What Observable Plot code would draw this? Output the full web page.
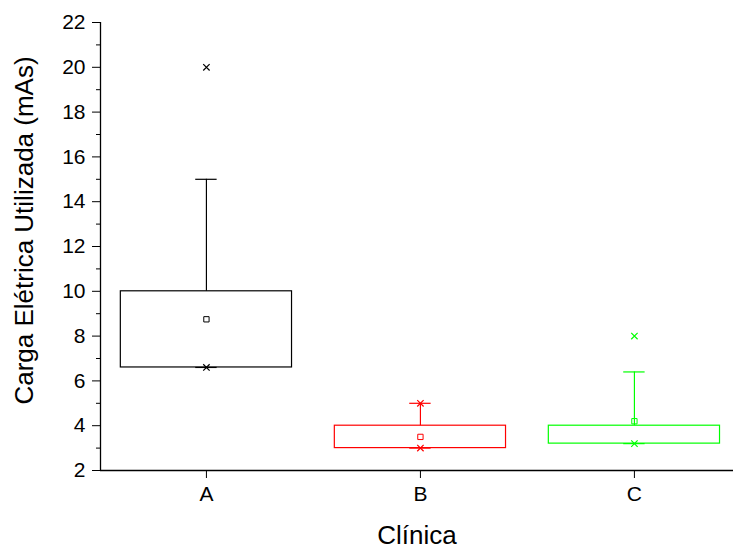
<!DOCTYPE html>
<html>
<head>
<meta charset="utf-8">
<script src="https://cdn.jsdelivr.net/npm/d3@7"></script>
<script src="https://cdn.jsdelivr.net/npm/@observablehq/plot@0.6"></script>
<style>
  body { margin: 0; background: #fff; }
  svg { display: block; }
</style>
</head>
<body>
<div id="chart"></div>
<script>
// Box-plot summaries of electric charge (mAs) per clinic
const clinics = ["A", "B", "C"];
const q1 = [6.6, 3.0, 3.2];          // 25th percentile (box bottom)
const q3 = [10.0, 4.0, 4.0];         // 75th percentile (box top)
const means = [8.75, 3.5, 4.2];      // mean (square marker)
const whiskerLow = [6.6, 3.0, 3.2];  // lower whisker
const whiskerHigh = [15.0, 5.0, 6.4];// upper whisker
const minima = [6.6, 3.0, 3.2];      // lowest value (cross)
const maxima = [20.0, 5.0, 8.0];     // highest value (cross)
const colors = ["#000000", "#ff0000", "#00ff00"];

const yTicks = [2, 4, 6, 8, 10, 12, 14, 16, 18, 20, 22];
const yMinorTicks = [3, 5, 7, 9, 11, 13, 15, 17, 19, 21];

const rows = clinics.map((c, i) => ({
  clinic: c, pos: i + 1,
  q1: q1[i], q3: q3[i], mean: means[i],
  lo: whiskerLow[i], hi: whiskerHigh[i],
  min: minima[i], max: maxima[i],
  color: colors[i]
}));

const xDomain = [0.505, 3.463];
const boxHalf = 0.4;
const capHalf = 0.05;
const font = "'Liberation Sans', Arial, sans-serif";

const chart = Plot.plot({
  width: 733,
  height: 548,
  marginLeft: 100,
  marginTop: 22,
  marginBottom: 78,
  marginRight: 0,
  style: { fontFamily: font, background: "white", color: "black" },
  x: { type: "linear", domain: xDomain },
  y: { domain: [2, 22] },
  color: { type: "identity" },
  marks: [
    // boxes
    Plot.rect(rows, {
      x1: d => d.pos - boxHalf, x2: d => d.pos + boxHalf,
      y1: "q1", y2: "q3", fill: "none", stroke: "color", strokeWidth: 1.2
    }),
    // whiskers
    Plot.ruleX(rows, { x: "pos", y1: "q3", y2: "hi", stroke: "color", strokeWidth: 1.2 }),
    Plot.ruleX(rows, { x: "pos", y1: "lo", y2: "q1", stroke: "color", strokeWidth: 1.2 }),
    // whisker caps
    Plot.ruleY(rows, { y: "hi", x1: d => d.pos - capHalf, x2: d => d.pos + capHalf, stroke: "color", strokeWidth: 1.2 }),
    Plot.ruleY(rows, { y: "lo", x1: d => d.pos - capHalf, x2: d => d.pos + capHalf, stroke: "color", strokeWidth: 1.2 }),
    // mean
    Plot.dot(rows, { x: "pos", y: "mean", symbol: "square", r: 3, stroke: "color", fill: "none", strokeWidth: 1 }),
    // extremes
    Plot.dot(rows, { x: "pos", y: "min", symbol: "times", r: 3, stroke: "color", strokeWidth: 1.2 }),
    Plot.dot(rows, { x: "pos", y: "max", symbol: "times", r: 3, stroke: "color", strokeWidth: 1.2 }),
    // axes
    Plot.axisY({ ticks: yTicks, tickSize: 8, tickPadding: 7, fontSize: 21, label: null }),
    Plot.axisY({ ticks: yMinorTicks, tickSize: 4, tickFormat: () => "", label: null }),
    Plot.axisX({ ticks: [1, 2, 3], tickFormat: v => clinics[v - 1], tickSize: 8, tickPadding: 8, fontSize: 21, label: null }),
    Plot.ruleX([xDomain[0]], { strokeWidth: 1.3 }),
    Plot.ruleY([2], { strokeWidth: 1.3 }),
    // axis titles
    Plot.text(["Carga Elétrica Utilizada (mAs)"], {
      frameAnchor: "left", textAnchor: "middle", dx: -76, dy: -16,
      rotate: -90, fontSize: 26, fill: "black"
    }),
    Plot.text(["Clínica"], {
      frameAnchor: "bottom", textAnchor: "middle", dy: 73, fontSize: 26, fill: "black"
    })
  ]
});

document.getElementById("chart").appendChild(chart);
</script>
</body>
</html>
